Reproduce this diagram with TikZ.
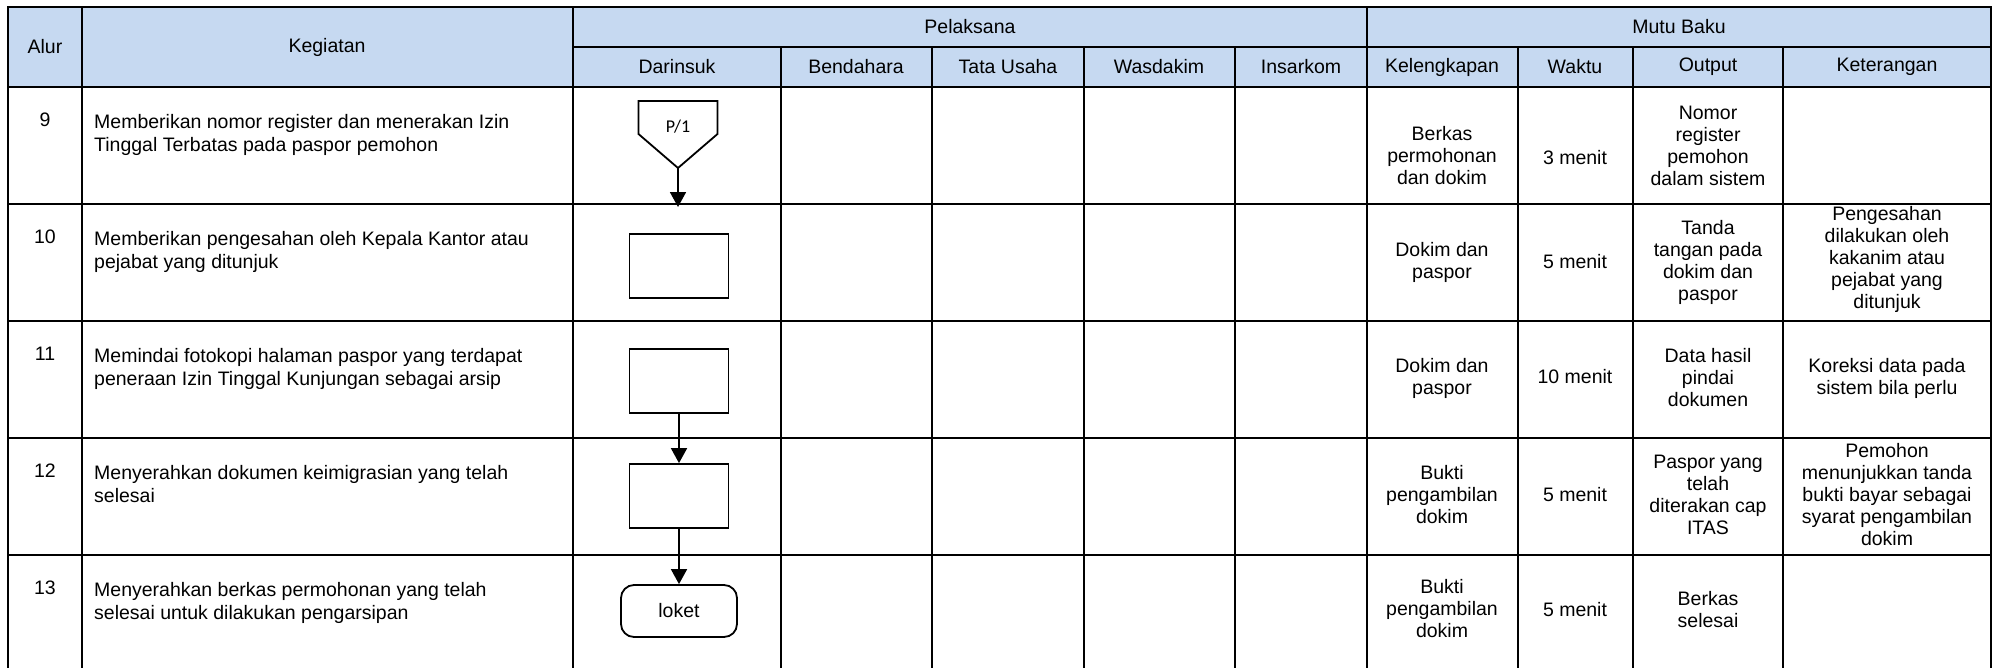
\documentclass[tikz,border=0pt]{standalone}
\usepackage{fontspec}
\setmainfont{Liberation Sans}
\newfontfamily\calibrifont{Carlito}
\usetikzlibrary{arrows.meta}
\definecolor{headblue}{RGB}{198,217,241}

\begin{document}
\begin{tikzpicture}[x=1pt,y=-1pt,node distance=115pt,
            grid line/.style={line width=2.6pt,line cap=rect},
            shape line/.style={line width=1.8pt},
            head node/.style={font=\fontsize{19.5}{22}\selectfont},
            keg node/.style={font=\fontsize{19.5}{23}\selectfont,align=left,anchor=base west,inner sep=0pt},
            cell node/.style={font=\fontsize{19.5}{22}\selectfont,align=center,inner sep=0pt},
            box node/.style={draw,shape line,minimum width=99pt,minimum height=64pt,inner sep=0pt},
            term node/.style={draw,shape line,rounded corners=13pt,minimum width=116pt,minimum height=52pt,font=\fontsize{19.5}{22}\selectfont},
            flow line/.style={-{Triangle[width=16pt,length=15pt]},line width=1.8pt}]

        \useasboundingbox (0,0) rectangle (2000,667);

        % Header background and table lines
        \fill[headblue] (8,7) rectangle (1991,87);
        \draw[grid line] (8,7) -- (1991,7);
        \draw[grid line] (573,47) -- (1991,47);
        \draw[grid line] (8,87) -- (1991,87);
        \draw[grid line] (8,204) -- (1991,204);
        \draw[grid line] (8,321) -- (1991,321);
        \draw[grid line] (8,438) -- (1991,438);
        \draw[grid line] (8,555) -- (1991,555);
        \draw[grid line] (8,7) -- (8,672);
        \draw[grid line] (82,7) -- (82,672);
        \draw[grid line] (573,7) -- (573,672);
        \draw[grid line] (1367,7) -- (1367,672);
        \draw[grid line] (1991,7) -- (1991,672);
        \draw[grid line] (781,47) -- (781,672);
        \draw[grid line] (932,47) -- (932,672);
        \draw[grid line] (1084,47) -- (1084,672);
        \draw[grid line] (1235,47) -- (1235,672);
        \draw[grid line] (1518,47) -- (1518,672);
        \draw[grid line] (1633,47) -- (1633,672);
        \draw[grid line] (1783,47) -- (1783,672);

        % Header
        \node[head node] (alur) at (45,47) {Alur};
        \node[head node] (kegiatan) at (327,47) {Kegiatan};
        \node[head node] (pelaksana) at (970,27) {Pelaksana};
        \node[head node] (mutu) at (1679,27) {Mutu Baku};
        \node[head node] (darinsuk) at (677,67) {Darinsuk};
        \node[head node] (bendahara) at (856,67) {Bendahara};
        \node[head node] (tatausaha) at (1008,67) {Tata Usaha};
        \node[head node] (wasdakim) at (1159,67) {Wasdakim};
        \node[head node] (insarkom) at (1301,67) {Insarkom};
        \node[head node] (kelengkapan) at (1442,67) {Kelengkapan};
        \node[head node] (waktu) at (1575,67) {Waktu};
        \node[head node] (output) at (1708,67) {Output};
        \node[head node] (keterangan) at (1887,67) {Keterangan};

        % Alur numbers
        \node[head node] (n9) at (45,120) {9};
        \node[head node] (n10) at (45,237) {10};
        \node[head node] (n11) at (45,354) {11};
        \node[head node] (n12) at (45,471) {12};
        \node[head node] (n13) at (45,588) {13};

        % Kegiatan
        \node[keg node] (k9) at (94,151) {Memberikan nomor register dan menerakan Izin\\Tinggal Terbatas pada paspor pemohon};
        \node[keg node] (k10) at (94,268) {Memberikan pengesahan oleh Kepala Kantor atau\\pejabat yang ditunjuk};
        \node[keg node] (k11) at (94,385) {Memindai fotokopi halaman paspor yang terdapat\\peneraan Izin Tinggal Kunjungan sebagai arsip};
        \node[keg node] (k12) at (94,502) {Menyerahkan dokumen keimigrasian yang telah\\selesai};
        \node[keg node] (k13) at (94,619) {Menyerahkan berkas permohonan yang telah\\selesai untuk dilakukan pengarsipan};

        % Mutu baku
        \node[cell node] (kel9) at (1442,156) {Berkas\\permohonan\\dan dokim};
        \node[cell node] (wak9) at (1575,158) {3 menit};
        \node[cell node] (out9) at (1708,146) {Nomor\\register\\pemohon\\dalam sistem};
        \node[cell node] (kel10) at (1442,262) {Dokim dan\\paspor};
        \node[cell node] (wak10) at (1575,262) {5 menit};
        \node[cell node] (out10) at (1708,262) {Tanda\\tangan pada\\dokim dan\\paspor};
        \node[cell node] (ket10) at (1887,259) {Pengesahan\\dilakukan oleh\\kakanim atau\\pejabat yang\\ditunjuk};
        \node[cell node] (kel11) at (1442,378) {Dokim dan\\paspor};
        \node[cell node] (wak11) at (1575,377) {10 menit};
        \node[cell node] (out11) at (1708,378) {Data hasil\\pindai\\dokumen};
        \node[cell node] (ket11) at (1887,378) {Koreksi data pada\\sistem bila perlu};
        \node[cell node] (kel12) at (1442,495) {Bukti\\pengambilan\\dokim};
        \node[cell node] (wak12) at (1575,495) {5 menit};
        \node[cell node] (out12) at (1708,495) {Paspor yang\\telah\\diterakan cap\\ITAS};
        \node[cell node] (ket12) at (1887,495) {Pemohon\\menunjukkan tanda\\bukti bayar sebagai\\syarat pengambilan\\dokim};
        \node[cell node] (kel13) at (1442,609) {Bukti\\pengambilan\\dokim};
        \node[cell node] (wak13) at (1575,610) {5 menit};
        \node[cell node] (out13) at (1708,610) {Berkas\\selesai};

        % Define flow shapes
        \node[font=\calibrifont\fontsize{18}{20}\selectfont] (p1) at (678,127) {P/1};
        \draw[shape line] (p1.center) ++(-39.5,-26) -- ++(79,0) -- ++(0,33)
            -- ++(-39.5,34) coordinate (p1tip) -- ++(-39.5,-34) -- cycle;
        \coordinate (p1end) at (678,207);
        \node[box node] (a10) at (679,266) {};
        \node[box node] (a11) [below of=a10] {};
        \node[box node] (a12) [below of=a11] {};
        \node[term node] (loket) [below of=a12] {loket};

        % Draw flow
        \path[flow line]
            (p1tip) edge (p1end)
            (a11) edge (a12)
            (a12) edge (loket);

        \end{tikzpicture}
\end{document}
